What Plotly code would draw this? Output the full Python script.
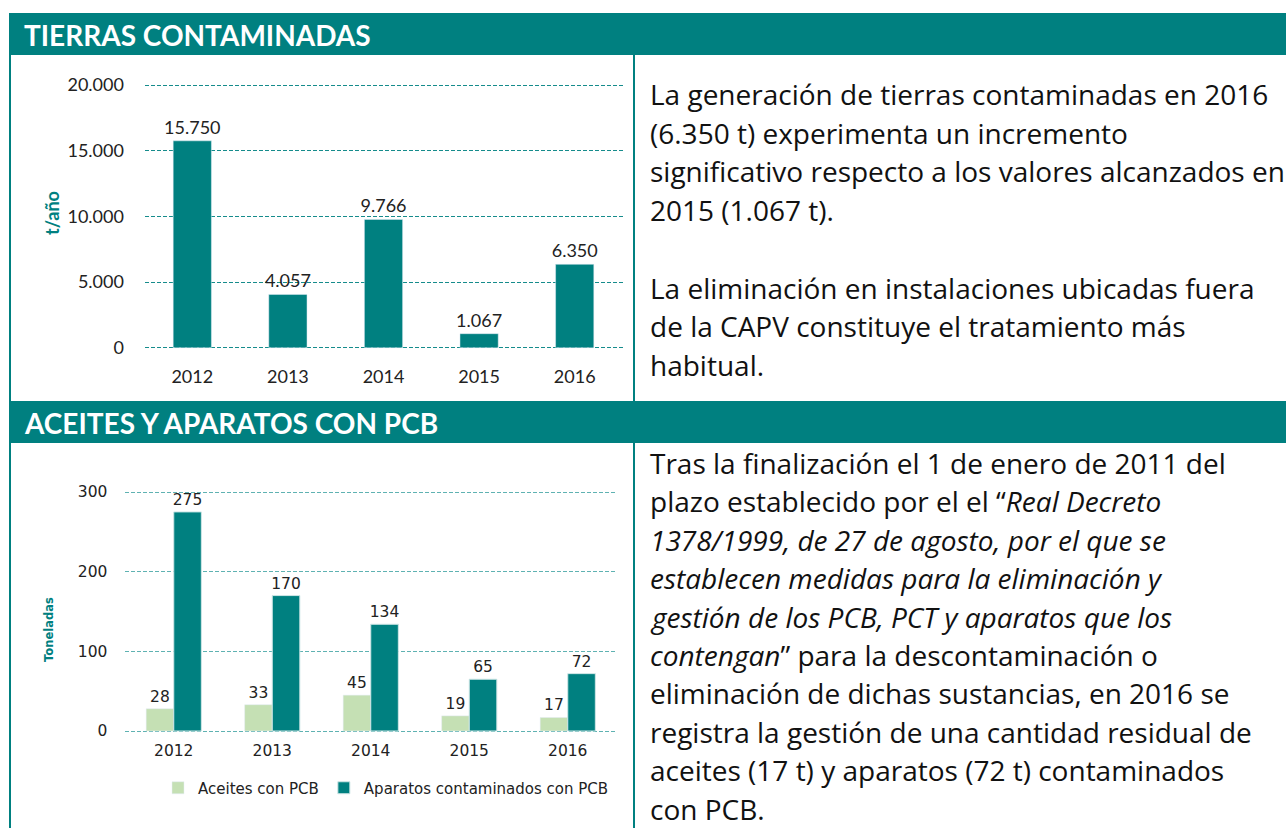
import plotly.graph_objects as go

W, H = 1286, 828
TEAL = "#008080"
LIGHT = "#c5e0b4"

# ---- data ----
years = ["2012", "2013", "2014", "2015", "2016"]
tierras = [15750, 4057, 9766, 1067, 6350]
tierras_ticks = [0, 5000, 10000, 15000, 20000]
tierras_ticktext = ["0", "5.000", "10.000", "15.000", "20.000"]

aceites = [28, 33, 45, 19, 17]
aparatos = [275, 170, 134, 65, 72]
pcb_ticks = [0, 100, 200, 300]

header1 = "TIERRAS CONTAMINADAS"
header2 = "ACEITES Y APARATOS CON PCB"
text1 = [
    "La generación de tierras contaminadas en 2016",
    "(6.350 t) experimenta un incremento",
    "significativo respecto a los valores alcanzados en",
    "2015 (1.067 t).",
    "",
    "La eliminación en instalaciones ubicadas fuera",
    "de la CAPV constituye el tratamiento más",
    "habitual.",
]
text2 = [
    "Tras la finalización el 1 de enero de 2011 del",
    "plazo establecido por el el “<i>Real Decreto</i>",
    "<i>1378/1999, de 27 de agosto, por el que se</i>",
    "<i>establecen medidas para la eliminación y</i>",
    "<i>gestión de los PCB, PCT y aparatos que los</i>",
    "<i>contengan</i>” para la descontaminación o",
    "eliminación de dichas sustancias, en 2016 se",
    "registra la gestión de una cantidad residual de",
    "aceites (17 t) y aparatos (72 t) contaminados",
    "con PCB.",
]


def px(x):
    return x / W


def py(y):
    return 1 - y / H


def padded(vmax, ypix0, ypixmax, pad=3):
    # axis range padded by a few pixels so the end gridlines are drawn
    k = (ypix0 - ypixmax) / vmax
    rng = [-pad / k, vmax + pad / k]
    dom = [py(ypix0 + pad), py(ypixmax - pad)]
    return rng, dom


r1, d1 = padded(20000, 347.7, 85)
r2, d2 = padded(300, 731, 492)

fig = go.Figure()

# Chart 1
fig.add_trace(go.Bar(
    x=years, y=tierras, marker_color=TEAL, width=0.4,
    texttemplate="%{y:,}", textposition="outside", constraintext="none",
    textfont=dict(family="Lato", size=18, color="#222"),
    cliponaxis=False, showlegend=False,
    xaxis="x", yaxis="y",
))

# Chart 2
fig.add_trace(go.Bar(
    x=years, y=aceites, name="Aceites con PCB", marker_color=LIGHT,
    width=0.28, offset=-0.28,
    text=aceites, textposition="outside", constraintext="none",
    textfont=dict(family="DejaVu Sans", size=15.5, color="#222"),
    cliponaxis=False, xaxis="x2", yaxis="y2",
))
fig.add_trace(go.Bar(
    x=years, y=aparatos, name="Aparatos contaminados con PCB", marker_color=TEAL,
    width=0.28, offset=0.0,
    marker_line=dict(color="#cfe6e6", width=1),
    text=aparatos, textposition="outside", constraintext="none",
    textfont=dict(family="DejaVu Sans", size=15.5, color="#222"),
    cliponaxis=False, xaxis="x2", yaxis="y2",
))

grid1 = dict(showgrid=True, gridcolor="#168c8c", griddash="4px,2px", gridwidth=1)
grid2 = dict(showgrid=True, gridcolor="#5fb2b2", griddash="4px,2px", gridwidth=1)

fig.update_layout(
    width=W, height=H,
    margin=dict(l=0, r=0, t=0, b=0, autoexpand=False),
    paper_bgcolor="white", plot_bgcolor="white",
    separators=",.",
    barmode="group",
    xaxis=dict(domain=[px(144.5), px(622.5)], anchor="y", showline=False, automargin=False,
               ticks="outside", ticklen=10, tickcolor="rgba(0,0,0,0)",
               tickfont=dict(family="Lato", size=18, color="#222")),
    yaxis=dict(domain=d1, anchor="x", range=r1, automargin=False,
               tickvals=tierras_ticks, ticktext=tierras_ticktext,
               ticks="outside", ticklen=16, tickcolor="rgba(0,0,0,0)",
               zeroline=False, showline=False,
               tickfont=dict(family="Lato", size=18, color="#222"), **grid1),
    xaxis2=dict(domain=[px(124.5), px(617)], anchor="y2", showline=False, automargin=False,
                ticks="outside", ticklen=2, tickcolor="rgba(0,0,0,0)",
                tickfont=dict(family="DejaVu Sans", size=15.5, color="#222")),
    yaxis2=dict(domain=d2, anchor="x2", range=r2, automargin=False,
                tickvals=pcb_ticks, ticks="outside", ticklen=13,
                tickcolor="rgba(0,0,0,0)", zeroline=False, showline=False,
                tickfont=dict(family="DejaVu Sans", size=15.5, color="#222"), **grid2),
    legend=dict(orientation="h", x=px(158), y=py(788), xanchor="left", yanchor="middle",
                font=dict(family="DejaVu Sans", size=15, color="#222"),
                bgcolor="rgba(0,0,0,0)"),
)

shapes = [
    dict(type="rect", xref="paper", yref="paper", x0=px(9), x1=1, y0=py(55), y1=py(13),
         fillcolor=TEAL, line_width=0, layer="below"),
    dict(type="rect", xref="paper", yref="paper", x0=px(9), x1=1, y0=py(443), y1=py(401),
         fillcolor=TEAL, line_width=0, layer="below"),
    dict(type="rect", xref="paper", yref="paper", x0=px(9), x1=px(11), y0=0, y1=py(13),
         fillcolor=TEAL, line_width=0, layer="below"),
    dict(type="rect", xref="paper", yref="paper", x0=px(633), x1=px(635), y0=py(401), y1=py(55),
         fillcolor=TEAL, line_width=0, layer="below"),
    dict(type="rect", xref="paper", yref="paper", x0=px(633), x1=px(635), y0=0, y1=py(443),
         fillcolor=TEAL, line_width=0, layer="below"),
]
fig.update_layout(shapes=shapes)

ann = []
ann.append(dict(text="<b>" + header1 + "</b>", x=px(22), y=py(35), xref="paper", yref="paper",
                xanchor="left", yanchor="middle", showarrow=False,
                font=dict(family="Lato", size=28, color="white")))
ann.append(dict(text="<b>" + header2 + "</b>", x=px(22), y=py(423), xref="paper", yref="paper",
                xanchor="left", yanchor="middle", showarrow=False,
                font=dict(family="Lato", size=28, color="white")))
ann.append(dict(text="<b>t/año</b>", x=px(52), y=py(213), xref="paper", yref="paper",
                textangle=-90, showarrow=False, xanchor="center", yanchor="middle",
                font=dict(family="Lato", size=18, color=TEAL)))
ann.append(dict(text="<b>Toneladas</b>", x=px(49), y=py(630), xref="paper", yref="paper",
                textangle=-90, showarrow=False, xanchor="center", yanchor="middle",
                font=dict(family="DejaVu Sans", size=11.5, color=TEAL)))

BODY = dict(family="Open Sans", size=28, color="#111")
for i, t in enumerate(text1):
    if not t:
        continue
    ann.append(dict(text=t, x=px(648), y=py(94 + i * 38.7), xref="paper", yref="paper",
                    xanchor="left", yanchor="middle", showarrow=False, font=BODY))
for i, t in enumerate(text2):
    ann.append(dict(text=t, x=px(648), y=py(463 + i * 38.4), xref="paper", yref="paper",
                    xanchor="left", yanchor="middle", showarrow=False, font=BODY))
fig.update_layout(annotations=ann)

fig.write_html("out.html", config={"displayModeBar": False},
               post_script="document.body.style.margin='0';")
